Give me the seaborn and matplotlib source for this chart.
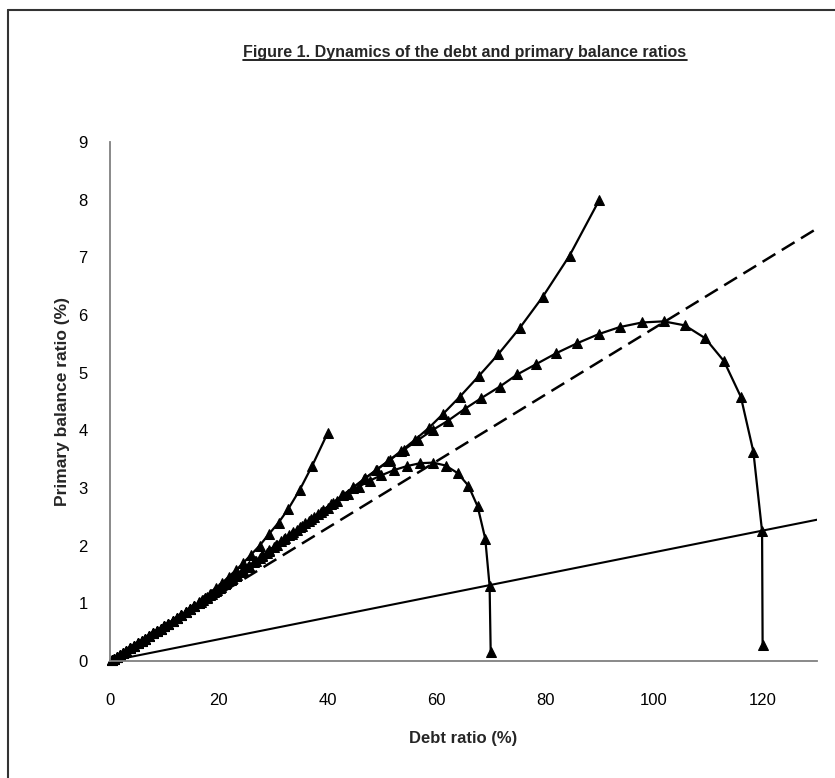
import matplotlib
matplotlib.use("Agg")
import pandas as pd
import seaborn as sns
from matplotlib import pyplot as plt
from matplotlib.lines import Line2D

# shared stretch near the origin (all four paths sit on top of each other here)
start_debt = [0.3, 0.7, 1.2, 1.8, 2.4, 3.0, 3.7, 4.4, 5.1, 5.8, 6.5, 7.2, 7.9,
              8.6, 9.3, 10.0, 10.7, 11.5, 12.3, 13.1, 13.9, 14.7, 15.5]
start_pb = [0.02, 0.04, 0.07, 0.11, 0.14, 0.18, 0.22, 0.26, 0.31, 0.35, 0.39, 0.43, 0.48,
            0.52, 0.56, 0.60, 0.65, 0.70, 0.75, 0.80, 0.85, 0.90, 0.95]

# path ending at debt 40
a_debt = [16.4, 17.4, 18.4, 19.5, 20.6, 21.8, 23.1, 24.5, 25.9, 27.5, 29.3, 31.0,
          32.8, 34.9, 37.2, 40.0]
a_pb = [1.02, 1.09, 1.17, 1.26, 1.35, 1.46, 1.57, 1.70, 1.84, 2.00, 2.21, 2.40,
        2.64, 2.97, 3.39, 3.95]

# path ending at debt 90
b_debt = [16.3, 17.0, 17.8, 18.6, 19.4, 20.3, 21.2, 22.2, 23.2, 24.2, 25.3, 26.4,
          27.6, 28.8, 30.1, 31.5, 32.9, 34.4, 35.9, 37.5, 39.2, 41.0, 42.8, 44.7,
          46.7, 48.9, 51.2, 53.5, 56.0, 58.6, 61.3, 64.3, 67.8, 71.4, 75.3, 79.6,
          84.5, 90.0]
b_pb = [1.00, 1.05, 1.10, 1.16, 1.21, 1.27, 1.34, 1.41, 1.48, 1.55, 1.63, 1.71,
        1.79, 1.88, 1.98, 2.08, 2.18, 2.28, 2.39, 2.50, 2.62, 2.74, 2.87, 3.00,
        3.15, 3.31, 3.47, 3.64, 3.83, 4.04, 4.29, 4.58, 4.94, 5.32, 5.77, 6.32,
        7.03, 8.00]

# path turning back down to debt 70
c_debt = [16.3, 17.1, 17.9, 18.7, 19.6, 20.5, 21.4, 22.4, 23.4, 24.5, 25.6, 26.8,
          28.0, 29.3, 30.6, 32.0, 33.5, 35.0, 36.6, 38.3, 40.0, 41.8, 43.7, 45.7,
          47.8, 49.9, 52.2, 54.6, 57.0, 59.4, 61.7, 63.9, 65.9, 67.6, 69.0, 69.8, 70.0]
c_pb = [1.00, 1.06, 1.11, 1.16, 1.23, 1.29, 1.35, 1.42, 1.49, 1.57, 1.65, 1.73,
        1.82, 1.91, 2.01, 2.11, 2.21, 2.32, 2.43, 2.55, 2.66, 2.78, 2.90, 3.02,
        3.13, 3.22, 3.31, 3.38, 3.43, 3.44, 3.39, 3.26, 3.04, 2.68, 2.12, 1.30, 0.15]

# path turning back down to debt 120
d_debt = [16.7, 17.5, 18.3, 19.2, 20.1, 21.1, 22.1, 23.2, 24.3, 25.5, 26.7, 28.0,
          29.3, 30.7, 32.2, 33.7, 35.3, 37.0, 38.8, 40.7, 42.7, 44.7, 46.9, 49.1,
          51.5, 54.0, 56.6, 59.4, 62.2, 65.2, 68.3, 71.7, 74.9, 78.4, 82.1, 85.9,
          89.9, 93.7, 97.8, 101.8, 105.7, 109.4, 112.9, 116.0, 118.3, 119.9, 120.0]
d_pb = [1.03, 1.09, 1.14, 1.20, 1.26, 1.33, 1.40, 1.48, 1.56, 1.64, 1.73, 1.83,
        1.92, 2.02, 2.13, 2.23, 2.34, 2.46, 2.59, 2.72, 2.87, 3.01, 3.17, 3.32,
        3.49, 3.66, 3.83, 4.01, 4.17, 4.37, 4.56, 4.76, 4.97, 5.15, 5.34, 5.51,
        5.67, 5.79, 5.87, 5.89, 5.82, 5.60, 5.20, 4.58, 3.63, 2.25, 0.28]

# straight reference lines through the origin
line_debt = [0, 130]
dashed_pb = [0, 7.5]
solid_pb = [0, 2.45]

frames = []
for name, xs, ys in [("a", a_debt, a_pb), ("b", b_debt, b_pb),
                     ("c", c_debt, c_pb), ("d", d_debt, d_pb)]:
    frames.append(pd.DataFrame({"debt": start_debt + xs, "pb": start_pb + ys, "path": name}))
df = pd.concat(frames, ignore_index=True)

sns.set_style("white")
plt.rcParams["font.family"] = ["Liberation Sans Narrow", "Liberation Sans", "DejaVu Sans"]

fig = plt.figure(figsize=(8.35, 7.78), dpi=100)
ax = fig.add_axes([110 / 835, 1 - 661 / 778, 707 / 835, 519 / 778])

sns.lineplot(x=line_debt, y=solid_pb, color="black", lw=1.5, ax=ax)
sns.lineplot(x=line_debt, y=dashed_pb, color="black", lw=1.8, ax=ax)
ax.lines[-1].set_dashes([6, 3])

for name, sub in df.groupby("path"):
    sns.lineplot(data=sub, x="debt", y="pb", sort=False, estimator=None,
                 color="black", lw=1.6, marker="^", markersize=7,
                 markeredgecolor="black", clip_on=False, ax=ax)

ax.set_xlim(0, 130)
ax.set_ylim(0, 9)
ax.set_xticks(range(0, 121, 20))
ax.set_yticks(range(0, 10))
sns.despine(ax=ax)
for side in ["left", "bottom"]:
    ax.spines[side].set_color("#808080")
    ax.spines[side].set_linewidth(1.3)
ax.tick_params(axis="both", direction="in", length=5, width=1, color="#808080",
               labelsize=12, labelcolor="black")
ax.tick_params(axis="x", pad=23)
ax.tick_params(axis="y", pad=16)

ax.set_xlabel("Debt ratio (%)", fontsize=12, fontweight="bold", va="center")
ax.set_ylabel("Primary balance ratio (%)", fontsize=12.5, fontweight="bold", va="center")
ax.xaxis.set_label_coords((463 - 110) / 707, (661 - 738) / 519)
ax.yaxis.set_label_coords((62 - 110) / 707, 0.5)

title = fig.text(465 / 835, 1 - 52 / 778, "Figure 1. Dynamics of the debt and primary balance ratios",
                 ha="center", va="center", fontsize=11.5, fontweight="bold")
fig.canvas.draw()
bb = title.get_window_extent().transformed(fig.transFigure.inverted())
fig.add_artist(Line2D([bb.x0, bb.x1], [bb.y0, bb.y0], transform=fig.transFigure,
                      color="black", lw=1.2))

# frame edges of the original figure box
fig.add_artist(Line2D([8 / 835, 8 / 835], [0, 1 - 10 / 778], transform=fig.transFigure,
                      color="#333333", lw=1.5))
fig.add_artist(Line2D([8 / 835, 1], [1 - 10 / 778, 1 - 10 / 778], transform=fig.transFigure,
                      color="#333333", lw=1.5))

fig.savefig("out.png", dpi=100)
